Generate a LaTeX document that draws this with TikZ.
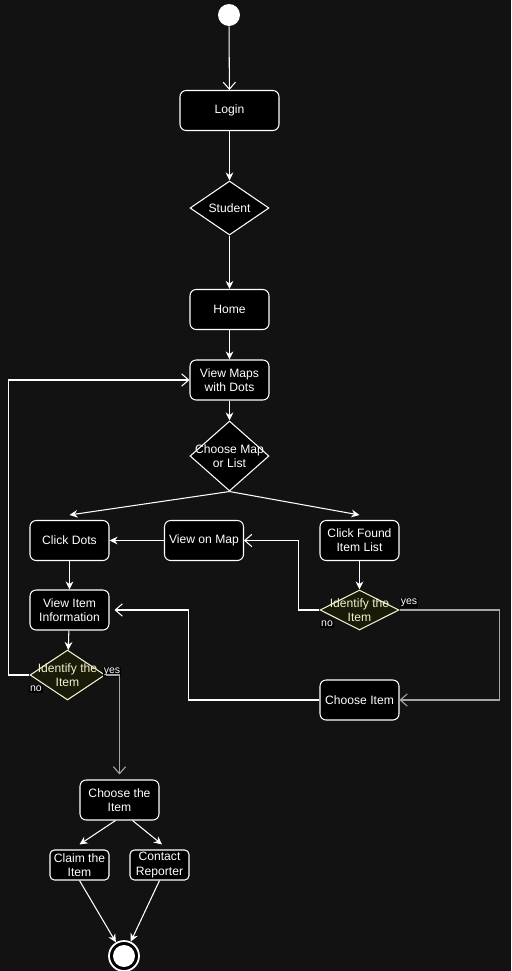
\documentclass[tikz,border=0pt]{standalone}
\usepackage{fontspec}
\setmainfont{Liberation Sans}
\usetikzlibrary{shapes.geometric,arrows.meta,calc}
\definecolor{bgc}{HTML}{121212}
\definecolor{olv}{HTML}{1A1A08}
\definecolor{pale}{HTML}{F2F2CC}
\definecolor{lgray}{HTML}{A6A6A6}

\begin{document}
\begin{tikzpicture}[x=0.02cm,y=-0.02cm,
  font=\fontsize{6.9pt}{8pt}\selectfont,
  box/.style={rectangle,rounded corners=3.5pt,draw=white,fill=black,text=white,line width=0.6pt,
    minimum width=1.58cm,minimum height=0.8cm,inner sep=1pt,align=center},
  dia/.style={diamond,draw=white,fill=black,line width=0.6pt,inner sep=0pt,minimum width=1.58cm},
  idia/.style={dia,draw=pale,fill=olv},
  txt/.style={text=white,align=center,inner sep=0pt},
  ptxt/.style={text=pale,align=center,inner sep=0pt},
  arr/.style={draw=white,line width=0.6pt,-{Stealth[length=4.6pt,width=4.4pt,inset=1.5pt]}},
  oarr/.style={draw=white,line width=0.6pt,-{Straight Barb[length=4pt,width=7pt]}},
  tag/.style={fill=black,text=white,inner sep=0.5pt,font=\fontsize{6pt}{7pt}\selectfont}]

\useasboundingbox[fill=bgc] (0,0) rectangle (511,971);

\node[circle,fill=white,minimum size=0.44cm,inner sep=0] (start) at (229,15) {};
\node[box,minimum width=1.98cm] (login) at (229.5,110.5) {Login};
\node[dia,minimum height=1.08cm,label={[txt]center:Student}] (student) at (229.5,208) {};
\node[box] (home) at (229.5,309.5) {Home};
\node[box] (viewmaps) at (229.5,380) {View Maps\\with Dots};
\node[dia,minimum height=1.4cm,label={[txt]center:Choose Map\\or List}] (choose) at (229.5,456) {};
\node[box] (clickdots) at (69.5,540.5) {Click Dots};
\node[box] (viewonmap) at (204,540.5) {View on Map};
\node[box] (clickfound) at (359.5,540.5) {Click Found\\Item List};
\node[idia,minimum height=0.8cm,label={[ptxt]center:Identify the\\Item}] (identR) at (359.5,610) {};
\node[box] (viewinfo) at (69.5,610) {View Item\\Information};
\node[idia,minimum width=1.5cm,minimum height=1cm,label={[ptxt]center:Identify the\\Item}] (identL) at (67.5,675) {};
\node[box] (chooseitem) at (359.5,700) {Choose Item};
\node[box] (choosethe) at (119.5,800) {Choose the\\Item};
\node[box,minimum width=1.18cm,minimum height=0.6cm,rounded corners=2.5pt] (claim) at (79.5,865) {Claim the\\Item};
\node[box,minimum width=1.18cm,minimum height=0.6cm,rounded corners=2.5pt] (contact) at (159.5,865) {Contact\\Reporter};
\node[circle,draw=white,line width=1pt,fill=black,minimum size=0.6cm,inner sep=0] (finish) at (124,956) {};
\fill[white] (finish) circle (0.22cm);

\node[tag] (yesR) at (409,603) {yes};
\node[tag] (noR) at (327,624) {no};
\node[tag] (yesL) at (112,672) {yes};
\node[tag] (noL) at (36,689) {no};

\draw[oarr] (start) -- (login);
\draw[arr] (login) -- (student);
\draw[arr] (student) -- (home);
\draw[arr] (home) -- (viewmaps);
\draw[arr] (viewmaps) -- (choose);
\draw[arr] (choose.south) -- ($(clickdots.north)+(0,-5)$);
\draw[arr] (choose.south) -- ($(clickfound.north)+(0,-5)$);
\draw[arr] (viewonmap) -- (clickdots);
\draw[arr] (clickdots) -- (viewinfo);
\draw[arr] (clickfound) -- (identR);
\draw[oarr] (identR.west) -- ++(-21,0) |- (viewonmap.east);
\draw[oarr,draw=lgray] (identR.east) -- ++(100,0) |- (chooseitem.east);
\draw[oarr] (chooseitem.west) -- ++(-131,0) |- ($(viewinfo.east)+(5,0)$);
\draw[arr] (viewinfo) -- (identL);
\draw[oarr] (identL.west) -- ++(-21,0) |- (viewmaps.west);
\draw[oarr,draw=lgray] (identL.east) -| ($(choosethe.north)+(0,-5)$);
\draw[arr] ($(choosethe.south)+(-4,0)$) -- ($(claim.north)+(0,-5)$);
\draw[arr] ($(choosethe.south)+(13,0)$) -- ($(contact.north)+(2.5,-5)$);
\draw[arr] (claim.south) -- (finish);
\draw[arr] (contact.south) -- (finish);
\end{tikzpicture}
\end{document}
